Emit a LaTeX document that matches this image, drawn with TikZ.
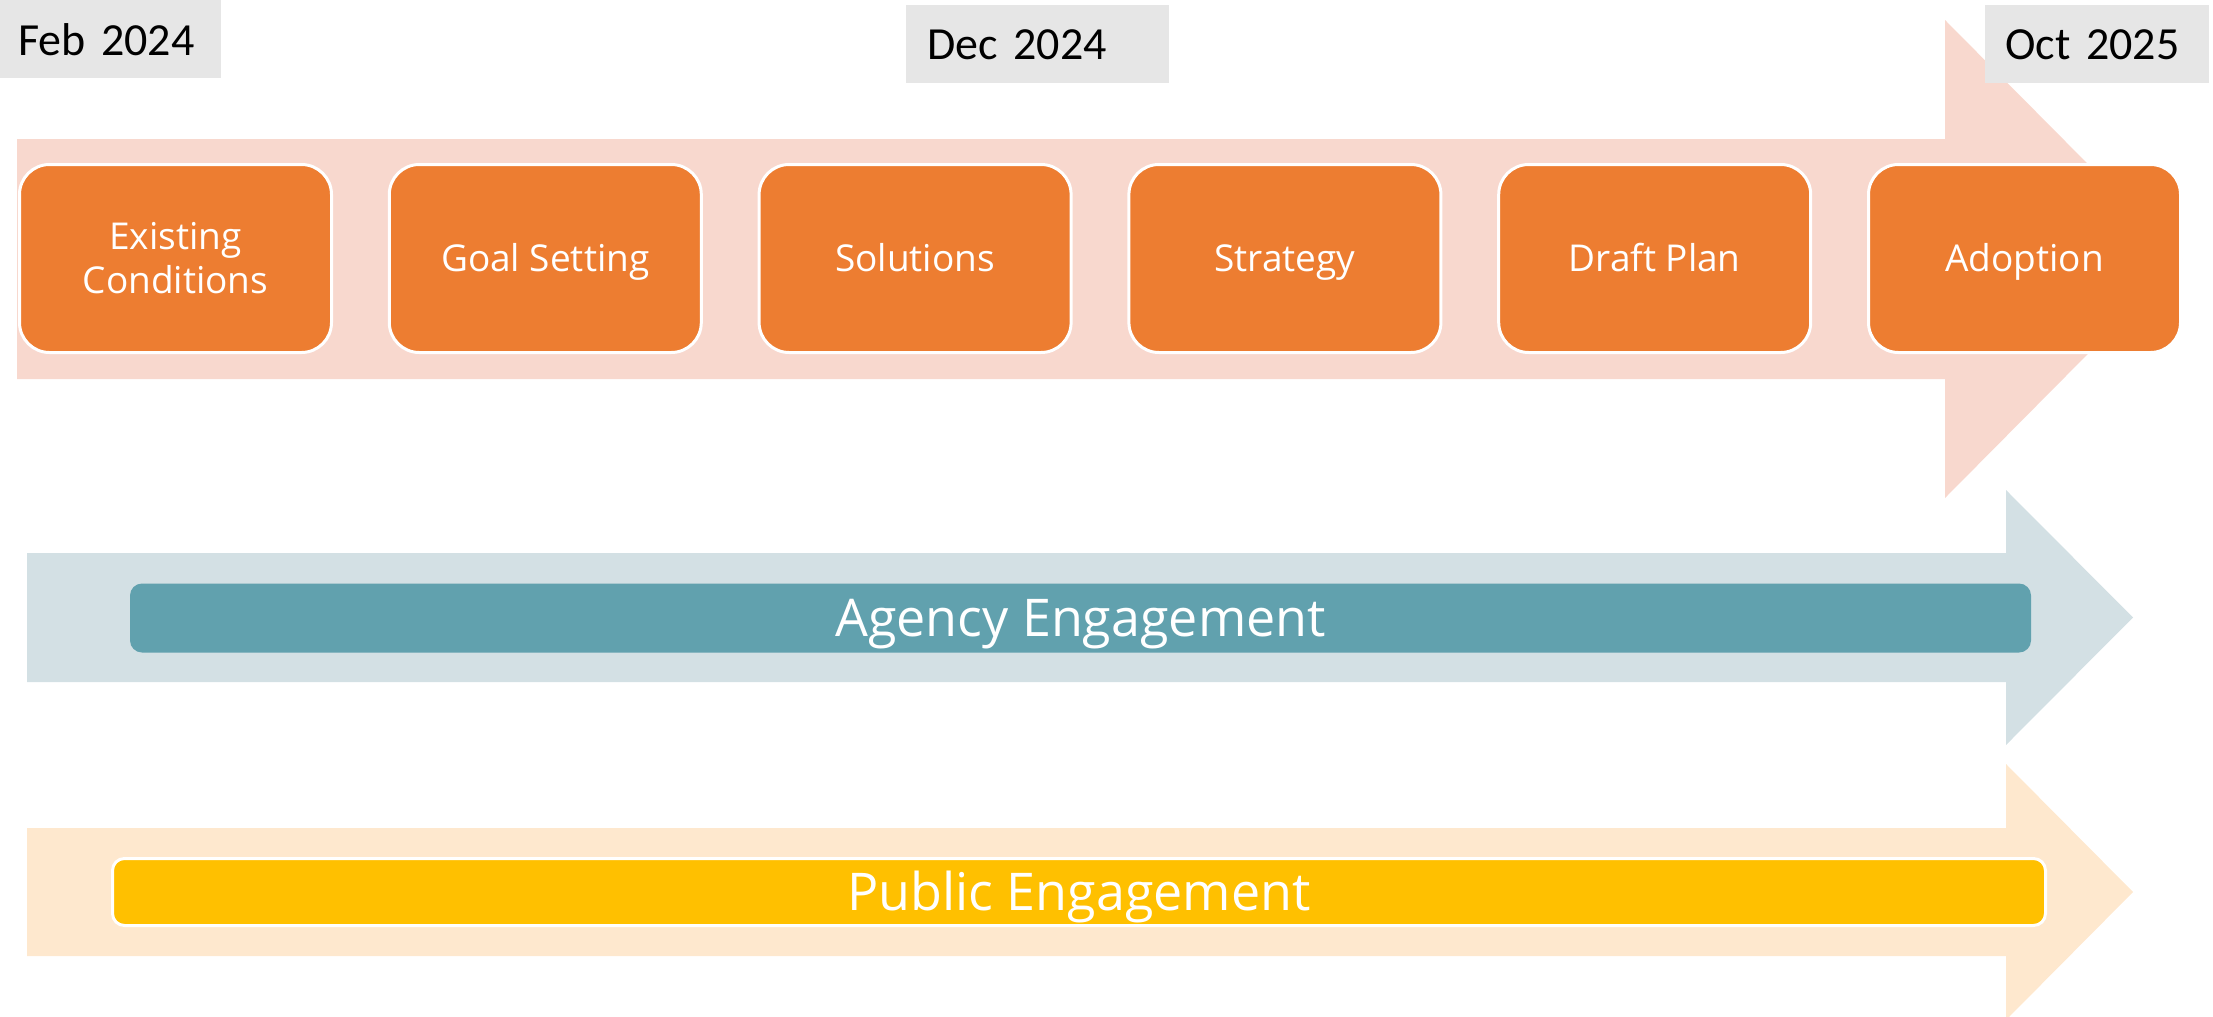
\documentclass[tikz,border=0pt]{standalone}
\usepackage{fontspec}
\usepackage{xcolor}
\usepackage{tikz}
\usetikzlibrary{positioning}
\newfontfamily\stepfont{Open Sans}
\newfontfamily\datefont{Carlito}
\definecolor{shaftpink}{HTML}{F8D8CE}
\definecolor{steporange}{HTML}{ED7D31}
\definecolor{dategray}{HTML}{E6E6E6}
\definecolor{shaftteal}{HTML}{D3E0E4}
\definecolor{barteal}{HTML}{61A1AE}
\definecolor{shaftpeach}{HTML}{FEE8CE}
\definecolor{baryellow}{HTML}{FFC000}

\begin{document}
\begin{tikzpicture}[x=0.5pt, y=-0.5pt,
    datebox/.style={fill=dategray, anchor=north west, minimum height=39pt,
      inner ysep=0pt, align=left, font=\datefont\fontsize{23}{27}\selectfont},
    stepbox/.style={fill=steporange, draw=white, line width=1.5pt,
      rounded corners=15pt, minimum width=156pt, minimum height=94pt,
      inner sep=0pt, text=white, align=center,
      font=\stepfont\fontsize{18.5}{22}\selectfont},
    oneline/.style={text height=13.2pt, text depth=0pt},
    twoline/.style={},
    barbox/.style={rounded corners=6pt, inner sep=0pt, text=white,
      text height=18.6pt, text depth=0pt,
      font=\stepfont\fontsize{26}{30}\selectfont}] % Timeline

      \useasboundingbox (0, 0) rectangle (2213, 1017);

      \fill [shaftpink] (17, 139) -- (1945, 139) -- (1945, 20) -- (2182, 259)
      -- (1945, 498) -- (1945, 379) -- (17, 379) -- cycle;

      \fill [shaftteal] (27, 553) -- (2006, 553) -- (2006, 490) -- (2133, 617.5)
      -- (2006, 745) -- (2006, 682) -- (27, 682) -- cycle;

      \fill [shaftpeach] (27, 828) -- (2006, 828) -- (2006, 764) -- (2133, 892)
      -- (2006, 1020) -- (2006, 956) -- (27, 956) -- cycle;

      \foreach \lbl/\lines [count=\i from 0] in {{Existing\\Conditions}/twoline,
        Goal Setting/oneline, Solutions/oneline, Strategy/oneline,
        Draft Plan/oneline, Adoption/oneline}
      \node [stepbox, \lines] (step\i) at ({175.5 + 369.8*\i}, 258.5) {\lbl};

      \node [datebox, text width=92.5pt, inner xsep=9pt] (feb) at (0, 0) {Feb 2024};
      \node [datebox, text width=110.5pt, inner xsep=10.5pt] (dec) at (906, 5) {Dec 2024};
      \node [datebox, text width=92pt, inner xsep=10pt] (oct) at (1985, 5) {Oct 2025};

      \node [barbox, fill=barteal, minimum width=950.5pt, minimum height=34.5pt]
      (agency) at (1080.5, 618) {Agency Engagement};

      \node [barbox, fill=baryellow, draw=white, line width=1.5pt,
        minimum width=966.5pt, minimum height=33.5pt]
      (public) at (1079, 892) {Public Engagement};

    \end{tikzpicture}
\end{document}
